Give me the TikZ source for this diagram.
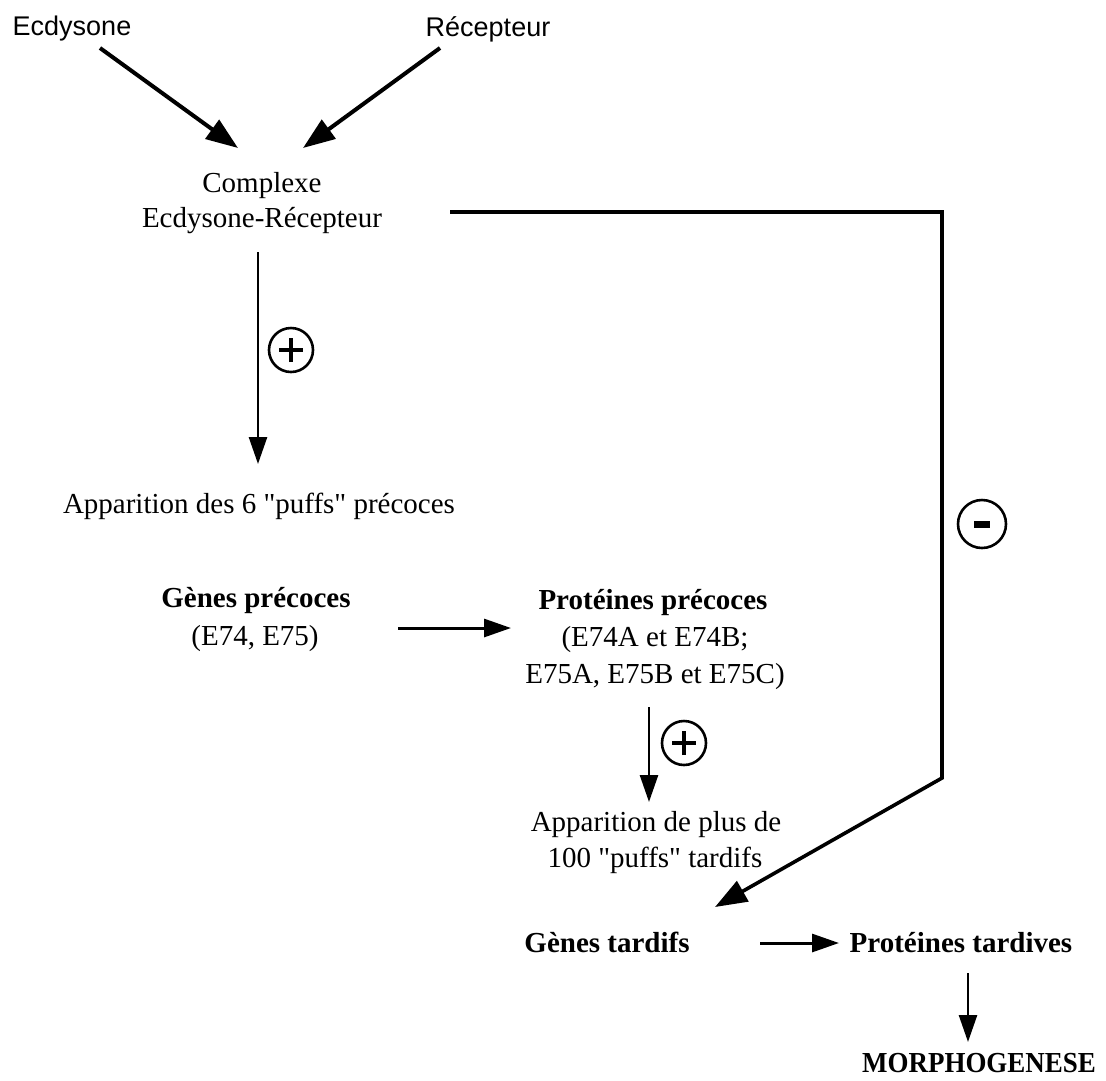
\documentclass[tikz,border=0pt]{standalone}
\usepackage{fontspec}
\setmainfont{Liberation Serif}[Ligatures=TeXOff]
\newfontfamily\labelsans{Liberation Sans}
\usetikzlibrary{arrows.meta}
\begin{document}
\begin{tikzpicture}[x=1pt,y=-1pt,
  txt/.style={inner sep=0pt, anchor=base, font=\fontsize{29}{34}\selectfont},
  btxt/.style={inner sep=0pt, anchor=base, font=\fontsize{29}{34}\selectfont\bfseries},
  stxt/.style={inner sep=0pt, anchor=base, font=\labelsans\fontsize{27}{32}\selectfont},
  link/.style={line width=2.6pt, -{Triangle[length=27pt,width=18pt]}},
  heavy/.style={line width=4pt, -{Triangle[length=32pt,width=23pt]}},
  sign/.style={circle, draw, line width=2.6pt, minimum size=44pt, inner sep=0pt},
  bar/.style={line width=4.2pt},
]
\useasboundingbox (0,0) rectangle (1106,1080);

% labels
\node[stxt] (ecd) at (72,35) {Ecdysone};
\node[stxt] (rec) at (488,36) {Récepteur};
\node[txt] (cx1) at (262,192) {Complexe};
\node[txt] (cx2) at (262,227) {Ecdysone-Récepteur};
\node[txt] (ep) at (259,513) {Apparition des 6 "puffs" précoces};
\node[btxt] (gp1) at (256,607) {Gènes précoces};
\node[txt] (gp2) at (255,645) {(E74, E75)};
\node[btxt] (pp1) at (653,609) {Protéines précoces};
\node[txt] (pp2) at (655,646) {(E74A et E74B;};
\node[txt] (pp3) at (655,683) {E75A, E75B et E75C)};
\node[txt] (tp1) at (656,831) {Apparition de plus de};
\node[txt] (tp2) at (655,867) {100 "puffs" tardifs};
\node[btxt] (gt) at (607,952) {Gènes tardifs};
\node[btxt] (pt) at (961,952) {Protéines tardives};
\node[btxt] (mo) at (979,1072) {\scalebox{0.93}[1]{MORPHOGENESE}};

% connector ends
\coordinate (a1s) at (100,48);  \coordinate (a1e) at (238,148);
\coordinate (a2s) at (440,48);  \coordinate (a2e) at (303,148);
\coordinate (v1s) at (258,252); \coordinate (v1e) at (258,464);
\coordinate (hs) at (450,212);  \coordinate (hc1) at (942,212);
\coordinate (hc2) at (942,778); \coordinate (he) at (715,907);
\coordinate (g1s) at (398,628); \coordinate (g1e) at (511,628);
\coordinate (v2s) at (649,707); \coordinate (v2e) at (649,802);
\coordinate (g2s) at (760,943); \coordinate (g2e) at (839,943);
\coordinate (v3s) at (968,973); \coordinate (v3e) at (968,1042);

% connectors
\draw[heavy] (a1s) -- (a1e);
\draw[heavy] (a2s) -- (a2e);
\draw[link] (v1s) -- (v1e);
\draw[heavy, line width=3.6pt, line join=miter] (hs) -- (hc1) -- (hc2) -- (he);
\draw[link, line width=3pt] (g1s) -- (g1e);
\draw[link] (v2s) -- (v2e);
\draw[link, line width=3pt] (g2s) -- (g2e);
\draw[link] (v3s) -- (v3e);

% activation / inhibition signs
\node[sign] (p1) at (291,350) {};
\draw[bar] ([xshift=-12pt]p1.center) -- ([xshift=12pt]p1.center);
\draw[bar] ([yshift=-12pt]p1.center) -- ([yshift=12pt]p1.center);
\node[sign] (p2) at (684,743) {};
\draw[bar] ([xshift=-12pt]p2.center) -- ([xshift=12pt]p2.center);
\draw[bar] ([yshift=-12pt]p2.center) -- ([yshift=12pt]p2.center);
\node[sign, minimum size=48pt] (m1) at (982,524) {};
\fill ([xshift=-8pt,yshift=-3.5pt]m1.center) rectangle ([xshift=8pt,yshift=3.5pt]m1.center);
\end{tikzpicture}
\end{document}
